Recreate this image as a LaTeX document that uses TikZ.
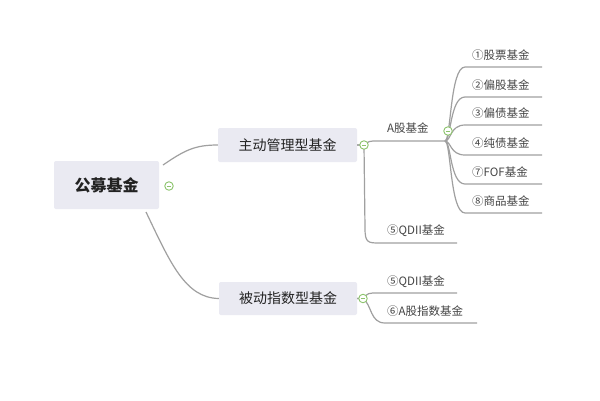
\documentclass[tikz,border=0pt]{standalone}
\usepackage{fontspec}
\setmainfont{Noto Sans CJK SC}
\definecolor{boxfill}{HTML}{EAEAF2}
\definecolor{linegray}{HTML}{A0A0A0}
\definecolor{tgreen}{HTML}{8CC46C}
\definecolor{txt}{HTML}{222222}
\definecolor{leaftxt}{HTML}{444444}
\begin{document}
\begin{tikzpicture}[x=1pt,y=-1pt,
  topicbox/.style={fill=boxfill, rounded corners=2pt, inner sep=0pt, text=txt},
  leaf/.style={anchor=west, inner sep=0pt, text=leaftxt, font=\fontsize{11.5}{12}\selectfont},
  conn/.style={draw=linegray, line width=1.2pt},
  toggle/.style={circle, draw=tgreen, fill=white, line width=0.9pt, minimum size=8.5pt, inner sep=0pt,
    path picture={\draw[tgreen, line width=0.8pt] ([xshift=2.2pt]path picture bounding box.west) -- ([xshift=-2.2pt]path picture bounding box.east);}}
]
\useasboundingbox (0,0) rectangle (600,400);
\fill[white] (0,0) rectangle (600,400);

% main topics
\node[topicbox, minimum width=105pt, minimum height=48pt, font=\fontsize{16}{18}\selectfont\bfseries] (root) at (106.5,185) {公募基金};
\node[topicbox, minimum width=139pt, minimum height=34pt, font=\fontsize{14}{16}\selectfont] (active) at (287.5,145) {主动管理型基金};
\node[topicbox, minimum width=138pt, minimum height=33pt, font=\fontsize{14}{16}\selectfont] (passive) at (288,298.5) {被动指数型基金};

% leaf labels
\node[leaf] (ashare) at (387,128) {A股基金};
\node[leaf] (qdiiA) at (387,231) {⑤QDII基金};
\node[leaf] (l1) at (472,55) {①股票基金};
\node[leaf] (l2) at (472,85) {②偏股基金};
\node[leaf] (l3) at (472,113) {③偏债基金};
\node[leaf] (l4) at (472,143) {④纯债基金};
\node[leaf] (l7) at (472,172) {⑦FOF基金};
\node[leaf] (l8) at (472,201) {⑧商品基金};
\node[leaf] (qdiiP) at (387,282) {⑤QDII基金};
\node[leaf] (aidx) at (387,311) {⑥A股指数基金};

% coordinates of connector ends
\coordinate (rootR) at (163,165);
\coordinate (rootB) at (146,212);
\coordinate (jA) at (445,141);

% root -> topics
\draw[conn] (rootR) .. controls (185,150) and (195,145) .. (active.west);
\draw[conn] (rootB) .. controls (170,262) and (185,298) .. (passive.west);

% active -> children
\draw[conn] (active.east) -- (364,145) .. controls (369,141) .. (378,141) -- (jA);
\draw[conn] (active.east) -- (364,145) -- (365,228) .. controls (365,243) and (368,243) .. (380,243) -- (457,243);

% A股基金 fan
\foreach \n/\y in {l1/67,l2/97,l3/125,l4/155,l7/184,l8/213}{
  \draw[conn] (jA) .. controls (451,141) and (450,\y) .. (465,\y) -- (542,\y);
}

% passive -> children
\draw[conn] (passive.east) -- (363,298.5) .. controls (368,293) .. (378,293) -- (457,293);
\draw[conn] (passive.east) -- (363,298.5) .. controls (372,305) and (370,323) .. (385,323) -- (477,323);

% toggles
\node[toggle] (t0) at (169,186) {};
\node[toggle] (t1) at (364,145) {};
\node[toggle] (t2) at (448,131) {};
\node[toggle] (t3) at (363,298.5) {};
\end{tikzpicture}
\end{document}
